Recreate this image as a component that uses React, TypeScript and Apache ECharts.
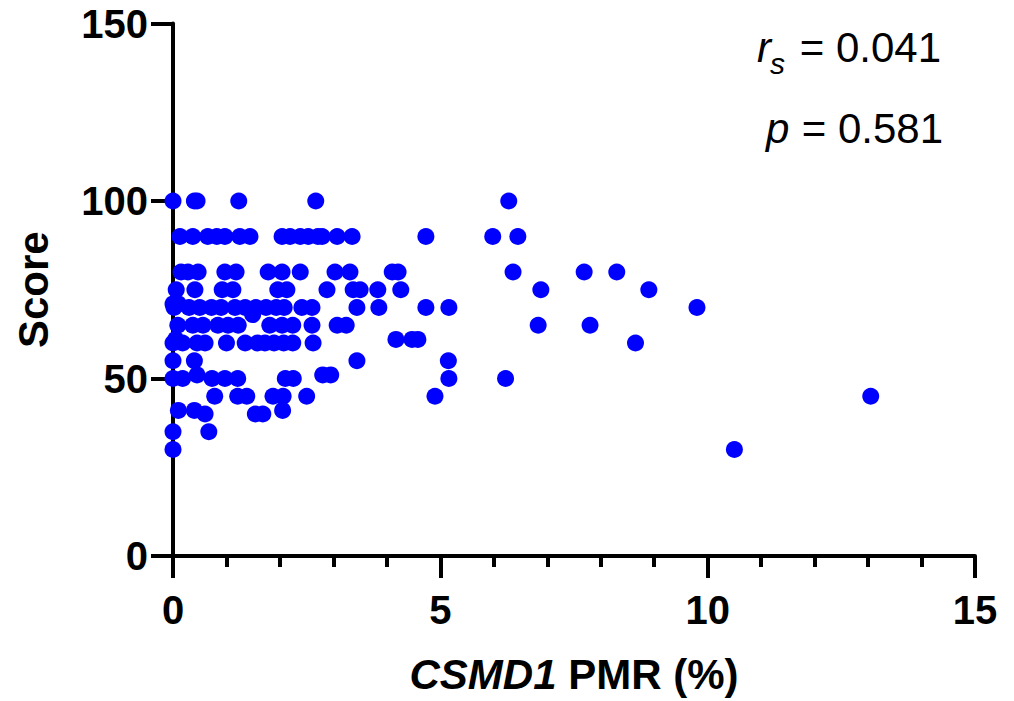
import React, { useEffect, useRef } from "react";
import * as echarts from "echarts";

const FONT = "'Liberation Sans', Arial, Helvetica, sans-serif";

// CSMD1 PMR (%) values, grouped by the score they were recorded with
const pmrScore100 = [0.0, 0.4, 0.45, 1.23, 2.67, 6.28];
const pmrScore90 = [0.13, 0.37, 0.65, 0.82, 0.97, 1.25, 1.44, 2.04, 2.19, 2.38, 2.53, 2.71, 2.79, 3.07, 3.35, 4.73, 5.98, 6.45];
const pmrScore80 = [0.15, 0.28, 0.47, 0.97, 1.18, 1.78, 2.04, 2.38, 3.03, 3.31, 4.1, 4.21, 6.36, 7.69, 8.3];
const pmrScore75 = [0.06, 0.41, 0.92, 1.12, 1.96, 2.13, 2.88, 3.37, 3.5, 3.83, 4.26, 6.88, 8.9];
const pmrScore71 = [0.0, 0.1];
const pmrScore70 = [0.02, 0.3, 0.5, 0.72, 0.9, 1.16, 1.35, 1.55, 1.74, 1.93, 2.08, 2.41, 2.6, 3.44, 3.85, 4.73, 5.16, 9.8];
const pmrScore68 = [1.49];
const pmrScore65 = [0.09, 0.37, 0.56, 0.84, 1.03, 1.22, 1.81, 2.04, 2.24, 2.6, 3.07, 3.24, 6.83, 7.8];
const pmrScore61 = [0.05, 4.17, 4.47, 4.58];
const pmrScore60 = [0.0, 0.18, 0.45, 0.6, 1.0, 1.35, 1.58, 1.72, 1.89, 2.07, 2.24, 2.62, 8.65];
const pmrScore55 = [0.0, 0.4, 3.44, 5.15];
const pmrScore51 = [0.45, 2.8, 2.95];
const pmrScore50 = [0.0, 0.18, 0.73, 0.97, 1.21, 2.1, 2.25, 5.16, 6.22];
const pmrScore45 = [0.78, 1.21, 1.38, 1.87, 2.06, 2.5, 4.9, 13.05];
const pmrScore41 = [0.1, 0.4, 2.05];
const pmrScore40 = [0.6, 1.54, 1.68];
const pmrScore35 = [0.0, 0.67];
const pmrScore30 = [0.0, 10.5];

const scoreGroups: [number, number[]][] = [
  [100, pmrScore100],
  [90, pmrScore90],
  [80, pmrScore80],
  [75, pmrScore75],
  [71, pmrScore71],
  [70, pmrScore70],
  [68, pmrScore68],
  [65, pmrScore65],
  [61, pmrScore61],
  [60, pmrScore60],
  [55, pmrScore55],
  [51, pmrScore51],
  [50, pmrScore50],
  [45, pmrScore45],
  [41, pmrScore41],
  [40, pmrScore40],
  [35, pmrScore35],
  [30, pmrScore30],
];

const xTickValues = [0, 5, 10, 15];
const yTickValues = [0, 50, 100, 150];
const rsText = "= 0.041";
const pText = "= 0.581";

export default function App() {
  const ref = useRef<HTMLDivElement>(null);

  useEffect(() => {
    if (!ref.current) return;
    const chart = echarts.init(ref.current, undefined, { renderer: "svg" });
    const points: number[][] = [];
    scoreGroups.forEach(([score, xs]) => xs.forEach((x) => points.push([x, score])));

    const axisCommon = {
      axisLine: { show: true, onZero: false, lineStyle: { color: "#000", width: 4 } },
      axisTick: { show: true, inside: false, length: 22, lineStyle: { color: "#000", width: 4 } },
      splitLine: { show: false },
      axisLabel: { color: "#000", fontFamily: FONT, fontWeight: "bold" as const, fontSize: 40 },
    };

    chart.setOption({
      animation: false,
      backgroundColor: "#fff",
      grid: { left: 173, top: 23.5, width: 802, height: 532.5, containLabel: false },
      xAxis: {
        type: "value",
        min: xTickValues[0],
        max: xTickValues[xTickValues.length - 1],
        interval: xTickValues[1] - xTickValues[0],
        ...axisCommon,
        axisLabel: { ...axisCommon.axisLabel, margin: 34 },
        minorTick: { show: true, splitNumber: 5, length: 11, lineStyle: { color: "#000", width: 4 } },
        name: "{i|CSMD1} PMR (%)",
        nameLocation: "middle",
        nameGap: 97,
        nameTextStyle: {
          color: "#000",
          fontFamily: FONT,
          fontWeight: "bold",
          fontSize: 42,
          rich: {
            i: { fontStyle: "italic", fontWeight: "bold", fontSize: 42, fontFamily: FONT, color: "#000" },
          },
        },
      },
      yAxis: {
        type: "value",
        min: yTickValues[0],
        max: yTickValues[yTickValues.length - 1],
        interval: yTickValues[1] - yTickValues[0],
        ...axisCommon,
        axisLabel: { ...axisCommon.axisLabel, margin: 25 },
        name: "Score",
        nameLocation: "middle",
        nameGap: 119,
        nameRotate: 90,
        nameTextStyle: { color: "#000", fontFamily: FONT, fontWeight: "bold", fontSize: 42 },
      },
      series: [
        {
          type: "scatter",
          data: points,
          symbol: "circle",
          symbolSize: 17,
          itemStyle: { color: "#0000ff", opacity: 1 },
          emphasis: { disabled: true },
        },
      ],
      graphic: [
        {
          type: "text",
          x: 757,
          y: 47,
          style: { text: "r", fontFamily: FONT, fontStyle: "italic", fontSize: 42, fill: "#000", textAlign: "left", textVerticalAlign: "middle" },
        },
        {
          type: "text",
          x: 770,
          y: 63,
          style: { text: "s", fontFamily: FONT, fontStyle: "italic", fontSize: 30, fill: "#000", textAlign: "left", textVerticalAlign: "middle" },
        },
        {
          type: "text",
          x: 941,
          y: 47,
          style: { text: rsText, fontFamily: FONT, fontSize: 42, fill: "#000", textAlign: "right", textVerticalAlign: "middle" },
        },
        {
          type: "text",
          x: 766,
          y: 128,
          style: { text: "p", fontFamily: FONT, fontStyle: "italic", fontSize: 42, fill: "#000", textAlign: "left", textVerticalAlign: "middle" },
        },
        {
          type: "text",
          x: 943,
          y: 128,
          style: { text: pText, fontFamily: FONT, fontSize: 42, fill: "#000", textAlign: "right", textVerticalAlign: "middle" },
        },
      ],
    });
    return () => chart.dispose();
  }, []);

  return (
    <div
      ref={ref}
      style={{ position: "fixed", left: 0, top: 0, width: 1014, height: 701, background: "#fff" }}
    />
  );
}
